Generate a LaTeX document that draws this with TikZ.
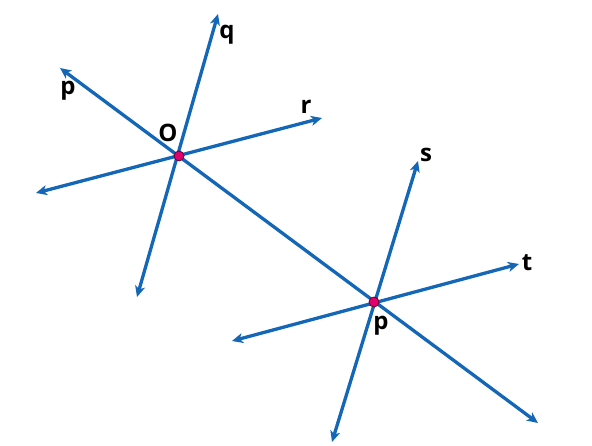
\documentclass[tikz,border=0pt]{standalone}
\usepackage{fontspec}
\setmainfont{Open Sans}
\usetikzlibrary{arrows.meta}
\definecolor{lineblue}{RGB}{20,102,182}
\definecolor{dotpink}{RGB}{225,0,110}
\tikzset{
  ray/.style={draw=lineblue, line width=3.3pt, {Stealth[length=11pt,width=10pt,inset=3pt]}-{Stealth[length=11pt,width=10pt,inset=3pt]}},
  lbl/.style={font=\fontsize{24}{28}\selectfont\bfseries, text=black, inner sep=0pt},
  ptdot/.style={circle, fill=dotpink, draw=black!55!dotpink, line width=0.8pt, minimum size=10pt, inner sep=0pt}
}
\begin{document}
\begin{tikzpicture}[x=1pt,y=-1pt]
\useasboundingbox (0,0) rectangle (592,446);
% end points
\coordinate (p1) at (60,68);
\coordinate (p2) at (538,423);
\coordinate (q1) at (218,14);
\coordinate (q2) at (137,297);
\coordinate (r1) at (322,118);
\coordinate (r2) at (36,193);
\coordinate (s1) at (418,161);
\coordinate (s2) at (332,442);
\coordinate (t1) at (519,264);
\coordinate (t2) at (232,341);
\draw[ray] (p1) -- (p2);
\draw[ray] (q1) -- (q2);
\draw[ray] (r1) -- (r2);
\draw[ray] (s1) -- (s2);
\draw[ray] (t1) -- (t2);
\node[ptdot] (O) at (179,156) {};
\node[ptdot] (P) at (374,302) {};
\node[lbl] (lq) at (227,35) {q};
\node[lbl] (lp) at (68,91) {p};
\node[lbl] (lr) at (306,107) {r};
\node[lbl] (lO) at (168,133) {O};
\node[lbl] (ls) at (426,155) {s};
\node[lbl] (lt) at (527,263) {t};
\node[lbl] (lP) at (381,326) {p};
\end{tikzpicture}
\end{document}
